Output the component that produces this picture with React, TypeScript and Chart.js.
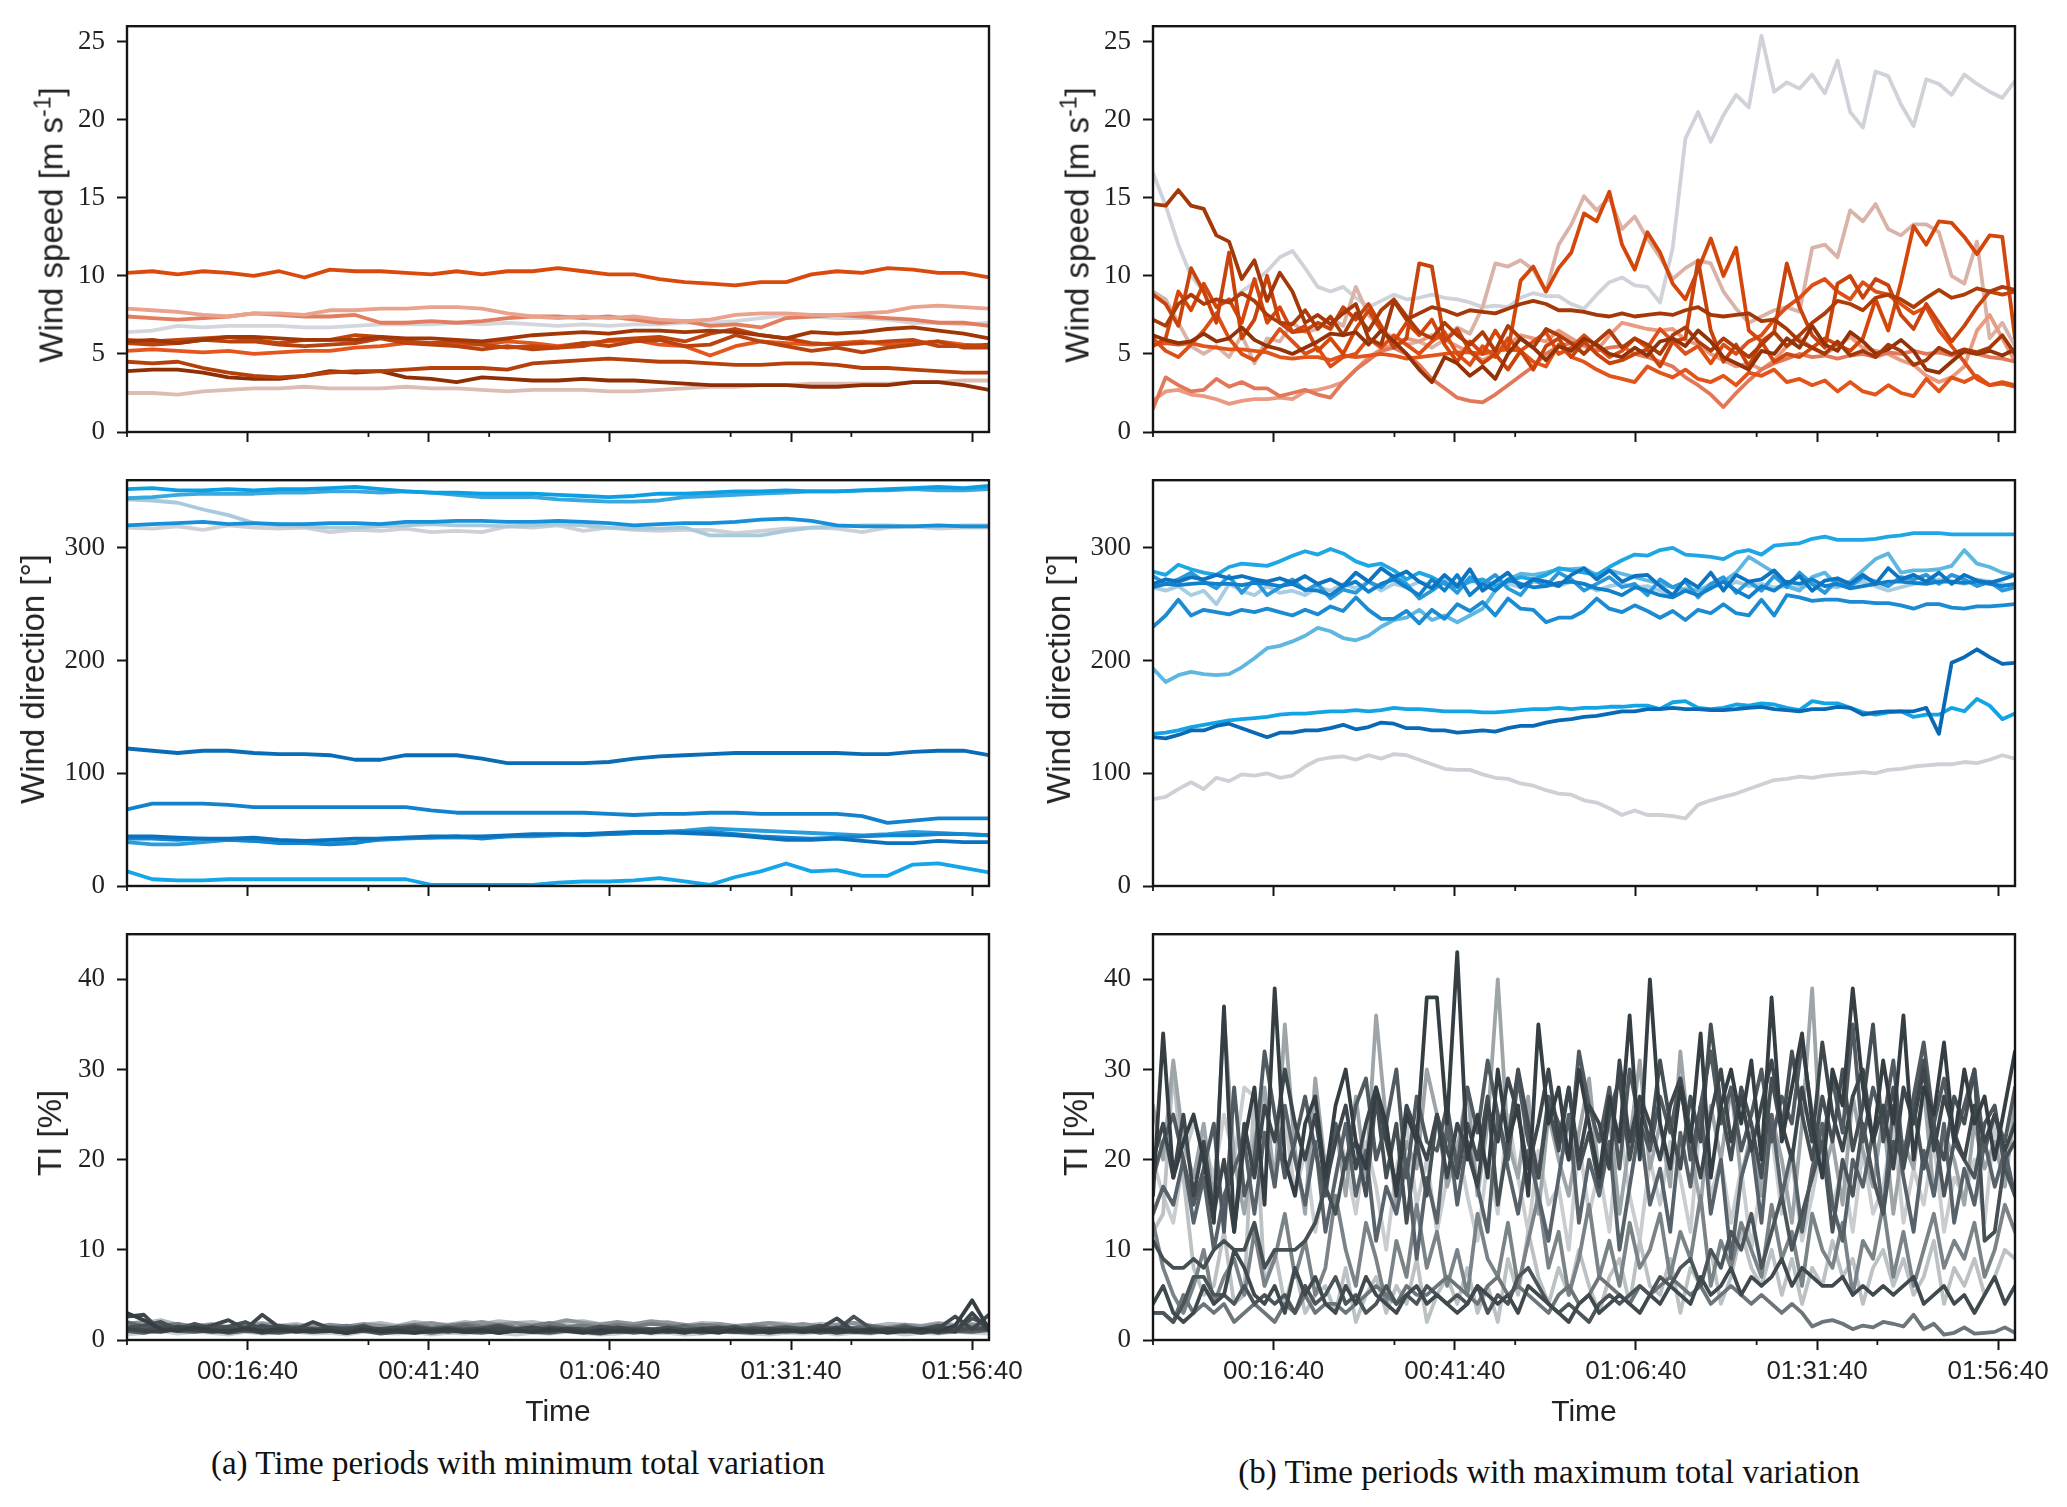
import React, { useEffect, useRef } from 'react';
import { Chart, registerables } from 'chart.js';

Chart.register(...registerables);

// time axis (seconds)
const timeTicks = [1000, 2500, 4000, 5500, 7000];
const timeTickLabels = ['00:16:40', '00:41:40', '01:06:40', '01:31:40', '01:56:40'];
const minorTimeTicks = [0, 2000, 3000, 5000, 6000];
const T_END = 7140;

const speedTicks = [0, 5, 10, 15, 20, 25];
const dirTicks = [0, 100, 200, 300];
const tiTicks = [0, 10, 20, 30, 40];

// (a) minimum total variation — wind speed, sample every 210 s
const speedMin: number[][] = [
  [10.2,10.3,10.1,10.3,10.2,10.0,10.3,9.9,10.4,10.3,10.3,10.2,10.1,10.3,10.1,10.3,10.3,10.5,10.3,10.1,10.1,9.8,9.6,9.5,9.4,9.6,9.6,10.1,10.3,10.2,10.5,10.4,10.2,10.2,9.9],
  [5.8,5.9,5.7,5.9,6.1,6.1,6.0,5.9,5.9,5.9,6.1,6.0,6.0,5.9,5.8,6.0,6.2,6.3,6.4,6.3,6.5,6.5,6.4,6.5,6.4,6.2,6.0,6.4,6.3,6.4,6.6,6.7,6.5,6.3,6.0],
  [5.9,5.8,5.9,6.0,6.1,5.9,5.7,5.9,5.9,6.2,6.1,5.8,5.7,5.8,5.6,5.4,5.5,5.4,5.5,5.9,6.0,6.1,5.8,6.3,6.6,6.2,6.0,5.7,5.6,5.7,5.8,5.9,5.5,5.5,5.6],
  [5.7,5.6,5.7,5.9,5.8,5.8,5.6,5.5,5.6,5.7,6.0,5.7,5.6,5.5,5.3,5.5,5.3,5.4,5.7,5.5,5.8,5.9,5.5,5.6,6.2,5.8,5.5,5.2,5.4,5.1,5.4,5.6,5.8,5.4,5.4],
  [5.2,5.3,5.2,5.1,5.2,5.0,5.1,5.2,5.2,5.4,5.5,5.7,5.7,5.6,5.6,5.8,5.7,5.5,5.7,5.8,5.9,5.6,5.5,4.9,5.5,5.8,5.7,5.6,5.7,5.8,5.6,5.7,5.8,5.6,5.5],
  [4.5,4.4,4.5,4.1,3.8,3.6,3.5,3.6,3.8,3.9,3.9,4.0,4.1,4.1,4.1,4.0,4.4,4.5,4.6,4.7,4.6,4.5,4.5,4.4,4.3,4.3,4.4,4.4,4.3,4.1,4.1,4.0,3.9,3.8,3.8],
  [3.9,4.0,4.0,3.8,3.5,3.4,3.4,3.6,3.9,3.8,3.9,3.5,3.4,3.2,3.5,3.4,3.3,3.3,3.4,3.3,3.3,3.2,3.1,3.0,3.0,3.0,3.0,2.9,2.9,3.0,3.0,3.2,3.2,3.0,2.7],
  [7.9,7.8,7.7,7.5,7.4,7.6,7.6,7.5,7.8,7.8,7.9,7.9,8.0,8.0,7.9,7.6,7.4,7.3,7.4,7.3,7.4,7.2,7.1,7.2,7.5,7.6,7.6,7.5,7.5,7.6,7.7,8.0,8.1,8.0,7.9],
  [7.4,7.3,7.2,7.3,7.4,7.6,7.5,7.4,7.4,7.5,7.0,7.0,7.1,7.0,7.1,7.3,7.4,7.4,7.3,7.4,7.2,7.0,7.1,6.8,6.9,6.7,7.3,7.4,7.5,7.4,7.3,7.2,7.0,7.0,6.8],
  [6.4,6.5,6.8,6.7,6.8,6.8,6.8,6.7,6.7,6.8,6.9,6.9,6.9,7.0,6.9,7.0,6.9,6.8,6.9,6.8,6.9,6.9,7.0,7.0,7.1,7.3,7.5,7.4,7.3,7.3,7.2,7.0,7.0,6.9,7.0],
  [2.5,2.5,2.4,2.6,2.7,2.8,2.8,2.9,2.8,2.8,2.8,2.9,2.8,2.8,2.7,2.6,2.7,2.7,2.7,2.6,2.6,2.7,2.8,2.9,2.9,3.0,3.0,3.1,3.1,3.1,3.1,3.2,3.2,3.3,3.3],
];
const speedMinColors = ['#d94a0c', '#a13707', '#c2440d', '#b8430f', '#e4561e', '#b5400a', '#8f2f05', '#e9a28c', '#e27d60', '#d3d6dc', '#dcbdb5'];

// (a) wind direction
const dirMin: number[][] = [
  [122,120,118,120,120,118,117,117,116,112,112,116,116,116,113,109,109,109,109,110,113,115,116,117,118,118,118,118,118,117,117,119,120,120,116],
  [68,73,73,73,72,70,70,70,70,70,70,70,67,65,65,65,65,65,65,64,63,64,64,65,65,64,64,64,64,62,56,58,60,60,60],
  [44,44,43,42,42,43,41,40,41,42,42,43,44,44,44,45,46,46,46,47,48,48,47,46,45,43,41,41,42,40,38,38,40,39,39],
  [42,42,41,42,41,40,38,38,37,38,42,43,43,44,42,44,45,46,45,46,47,47,48,48,46,44,43,42,43,44,45,45,46,46,45],
  [39,37,37,39,41,40,39,38,38,39,41,42,43,43,43,44,44,45,46,46,47,48,49,51,50,49,48,47,46,45,46,48,47,46,45],
  [13,6,5,5,6,6,6,6,6,6,6,6,1,1,1,1,1,3,4,4,5,7,4,1,8,13,20,13,14,9,9,19,20,16,12],
  [320,321,322,323,321,322,321,321,322,322,321,323,323,324,324,323,323,324,323,322,320,321,322,322,323,325,326,324,320,319,319,319,320,319,319],
  [352,353,351,351,352,351,352,352,353,354,352,350,349,349,348,348,348,347,346,345,346,348,348,349,350,350,351,350,350,351,352,353,354,353,355],
  [344,345,347,348,348,348,349,349,350,350,349,350,349,347,345,345,345,343,342,341,341,342,345,346,347,348,349,350,350,351,351,352,351,351,352],
  [343,342,340,334,329,322,320,319,318,318,319,320,321,320,320,319,320,321,320,318,317,317,318,311,311,311,315,318,319,320,320,319,319,320,320],
  [318,317,319,316,320,318,317,318,314,316,315,317,314,315,314,319,318,320,315,318,316,315,316,316,313,315,317,318,317,314,318,319,317,318,318],
];
const dirMinColors = ['#0a6cb5', '#1382cc', '#0d72be', '#1287d0', '#2a9cdc', '#14a6e8', '#1690d8', '#0c9fe3', '#39a8de', '#a9c9dc', '#cdd1d6'];

// (a) turbulence intensity, sample every 140 s
const tiMin: number[][] = [
  [3.0,2.2,1.2,1.0,1.4,1.1,0.9,1.3,1.0,1.2,0.9,1.1,1.0,0.8,1.2,0.9,1.1,0.8,1.0,1.2,0.9,1.1,0.8,1.0,0.9,1.2,1.0,0.8,1.1,0.9,1.0,0.8,1.1,0.9,1.0,0.8,1.2,0.9,1.0,1.1,0.9,1.0,1.2,0.9,1.1,0.8,1.0,1.2,0.9,1.6,4.4,1.2],
  [1.2,1.0,0.9,1.2,1.1,0.9,1.0,1.2,0.8,1.0,1.1,0.9,1.0,0.8,1.1,1.0,0.9,0.8,1.0,1.1,0.9,1.0,0.8,1.1,0.9,1.0,1.2,0.9,0.8,1.0,1.1,0.9,1.0,0.8,1.2,1.0,0.9,1.1,0.8,1.0,0.9,1.1,0.8,1.0,0.9,1.2,1.0,0.8,1.1,0.9,3.0,1.0],
  [2.6,2.8,1.0,1.5,1.2,1.6,2.2,1.2,2.8,1.4,1.2,2.0,1.3,1.1,1.4,1.2,1.0,1.3,1.1,0.9,1.2,1.0,1.3,1.1,1.4,1.0,1.2,0.9,1.1,1.3,1.0,1.2,0.9,1.1,1.0,1.3,1.1,0.9,1.2,1.0,1.1,1.3,2.4,1.0,1.2,0.9,1.1,1.0,1.3,2.6,1.2,2.8],
  [1.3,1.1,1.5,1.2,1.4,1.0,1.3,1.1,1.6,1.2,1.4,1.2,1.0,1.3,1.1,1.2,1.4,1.0,1.2,1.3,1.1,1.3,1.0,1.2,1.4,1.1,1.3,1.2,1.0,1.4,1.2,1.1,1.3,1.0,1.2,1.4,1.1,1.3,1.2,1.0,1.3,1.1,1.4,1.2,1.0,1.3,1.1,1.2,1.4,1.1,1.3,1.2],
  [1.4,1.6,2.0,1.2,1.8,1.3,1.5,2.0,1.2,1.6,1.3,1.1,1.4,1.2,1.6,1.0,1.3,1.5,1.2,1.4,1.1,1.3,1.6,1.2,1.0,1.4,1.2,1.1,1.5,1.3,1.2,1.0,1.4,1.1,1.3,1.2,1.5,1.0,1.2,1.4,1.2,1.6,1.1,2.6,1.3,1.0,1.4,1.2,1.6,1.1,2.4,1.6],
  [1.0,0.8,1.2,1.0,0.9,1.1,0.8,1.0,0.9,0.8,1.0,0.9,1.1,0.8,1.0,0.7,0.9,1.1,0.8,1.0,0.9,0.8,1.0,1.1,0.9,0.8,1.0,0.9,0.7,1.0,0.8,1.0,0.9,1.1,0.8,1.0,0.9,0.8,1.0,0.9,1.1,0.8,1.0,0.9,0.8,1.0,0.9,1.1,0.8,1.0,0.9,1.1],
  [2.0,1.5,1.8,1.4,1.2,1.6,1.3,1.5,1.2,1.4,1.2,1.3,1.1,1.4,1.2,1.0,1.3,1.5,1.1,1.3,1.6,1.2,1.4,1.1,1.3,1.5,1.2,1.0,1.3,1.1,1.4,1.2,1.3,1.6,1.1,1.3,1.2,1.4,1.1,1.3,1.2,1.4,1.1,1.3,1.5,1.2,1.6,1.1,1.4,1.3,1.2,1.5],
  [1.2,1.4,1.6,1.8,1.3,1.5,1.2,1.6,1.4,1.3,1.5,1.2,1.4,1.6,1.3,1.2,1.5,1.7,1.4,1.6,1.8,1.5,1.7,1.4,1.6,1.9,1.5,1.6,1.4,1.7,1.5,1.8,1.6,1.4,1.7,1.5,1.3,1.6,1.4,1.5,1.3,1.5,1.2,1.4,1.6,1.3,1.5,1.2,1.4,1.3,1.5,1.2],
  [1.8,2.0,1.6,1.8,1.5,1.7,1.4,1.6,1.8,1.5,1.6,1.4,1.7,1.5,1.8,1.6,1.4,1.7,1.9,1.6,1.8,2.0,1.7,1.9,1.6,1.8,2.2,1.9,1.7,2.0,1.8,2.1,1.9,1.7,1.6,1.8,1.5,1.7,1.9,1.6,1.8,1.5,1.7,1.9,1.6,1.4,1.7,1.5,1.8,1.6,1.7,1.5],
  [1.5,1.9,2.2,1.7,1.5,1.8,1.4,1.7,1.9,1.6,1.8,1.5,1.6,1.4,1.7,1.9,1.6,2.0,1.8,1.7,2.0,1.8,2.1,1.9,2.0,1.7,2.0,2.1,1.8,1.9,1.7,1.8,2.0,1.6,1.9,1.8,1.6,1.7,1.9,1.8,1.6,1.8,1.7,1.9,1.5,1.8,1.7,1.6,1.9,1.7,1.8,1.6],
  [0.6,0.8,1.0,0.7,0.9,0.8,0.6,0.9,0.7,0.8,0.9,0.7,0.8,0.6,0.9,0.8,0.7,0.9,0.6,0.8,0.7,0.9,0.8,0.6,0.8,0.7,0.9,0.8,0.6,0.7,0.9,0.7,0.8,0.6,0.7,0.9,0.8,0.7,0.6,0.8,0.7,0.9,0.6,0.8,0.7,0.9,0.6,0.8,0.7,0.9,0.8,0.7],
];
const tiMinColors = ['#353e43', '#3a4449', '#3e484d', '#444e53', '#475156', '#525c62', '#5f696e', '#737c81', '#8d9499', '#b4b9bc', '#cdd0d3'];

// (b) maximum total variation — wind speed, sample every 105 s
const speedMax: number[][] = [
  [14.6,14.5,15.5,14.5,14.3,12.6,12.2,9.8,11.0,8.4,10.2,9.0,7.0,7.5,6.9,7.6,8.2,6.0,5.6,8.4,7.2,7.6,8.0,7.8,7.5,7.8,7.7,7.6,7.9,8.2,8.4,8.2,7.8,7.8,7.7,7.5,7.4,7.6,7.4,7.5,7.6,7.5,7.8,8.0,7.5,7.4,7.5,7.6,7.1,7.2,6.6,5.8,5.4,5.0,5.8,4.9,5.2,4.8,5.6,5.2,4.3,4.6,5.4,5.0,5.3,5.1,5.4,6.2,5.0],
  [6.2,5.9,5.7,5.8,6.3,5.8,6.0,6.7,5.9,5.5,5.3,5.0,5.4,5.8,6.3,6.2,6.4,5.6,6.5,5.8,5.0,4.0,3.2,4.8,4.4,3.6,4.2,3.4,5.0,6.0,5.4,4.6,5.5,5.2,6.0,5.6,5.0,4.8,5.4,4.9,5.8,6.0,5.5,6.5,5.8,4.8,4.4,4.0,5.2,5.0,6.0,5.4,6.8,5.6,5.2,6.4,5.8,5.0,5.3,5.9,5.2,4.0,3.8,4.5,5.2,5.0,5.2,4.9,5.3],
  [7.2,6.8,8.2,8.8,8.2,8.5,8.3,8.9,8.4,7.5,7.0,6.9,7.8,6.6,7.4,6.2,7.6,6.5,7.8,8.5,7.4,6.4,6.0,7.0,6.2,5.6,6.4,5.2,6.8,6.0,5.4,6.6,6.2,5.7,5.0,5.8,6.5,5.4,6.0,5.6,5.0,6.2,6.7,5.8,5.2,6.0,5.4,4.8,5.6,6.4,5.5,6.2,7.0,7.6,8.4,8.2,7.8,8.6,8.8,8.5,8.0,8.6,9.1,8.6,8.8,9.2,9.0,9.3,9.1],
  [8.8,8.2,6.8,10.5,9.0,7.0,11.5,6.0,7.2,10.0,7.0,6.4,6.5,7.0,6.6,8.0,7.2,8.2,6.8,5.4,6.0,10.8,10.6,5.8,6.6,5.2,4.4,5.0,4.0,5.2,4.0,5.5,6.0,4.8,5.8,5.0,4.4,4.6,5.0,5.3,4.2,5.8,6.0,11.0,6.5,4.5,5.6,4.2,5.8,6.4,10.8,8.0,6.2,5.4,9.5,10.0,8.6,9.8,9.4,7.5,6.6,8.2,7.0,5.8,6.8,8.0,9.0,8.8,9.0],
  [5.5,6.0,9.0,7.8,9.5,8.0,8.5,7.0,9.8,7.0,8.0,6.4,6.8,5.2,6.0,5.0,6.6,7.8,6.5,5.8,7.0,6.2,7.2,5.6,4.5,5.8,5.0,6.5,5.2,9.7,10.6,9.0,10.5,11.5,14.0,13.5,15.4,12.0,10.4,12.8,11.5,9.5,8.5,10.4,12.4,10.0,11.8,6.5,5.8,4.5,5.0,4.8,5.4,6.0,5.6,5.2,6.0,8.5,6.5,9.6,13.2,12.0,13.5,13.4,12.5,11.4,12.6,12.5,6.0],
  [6.0,5.2,4.8,5.6,6.5,7.6,6.0,5.0,4.6,5.5,6.6,5.8,5.0,5.4,4.2,4.8,5.0,6.0,5.4,6.2,5.6,5.0,5.8,6.4,5.0,4.3,5.5,4.8,6.0,5.2,5.8,6.4,5.0,5.4,6.2,5.5,4.8,5.2,6.0,5.4,6.6,5.8,5.0,5.5,4.4,5.6,5.0,5.8,6.2,7.2,8.0,8.6,9.4,9.8,9.0,8.5,9.6,9.0,8.8,8.2,7.6,8.0,6.5,5.5,4.5,3.4,3.0,3.2,3.0],
  [5.6,5.7,5.6,5.7,5.5,5.4,5.3,5.3,5.2,5.1,4.8,4.7,4.8,4.8,4.6,4.9,4.8,4.9,5.0,4.9,4.7,4.8,4.9,5.0,5.1,5.1,5.0,5.2,5.3,5.2,4.5,4.2,5.6,4.8,4.5,4.0,3.6,3.4,3.2,4.2,3.8,3.5,4.0,3.4,3.2,3.6,3.0,3.8,3.6,4.0,3.2,3.4,3.0,3.3,2.6,3.2,2.6,2.4,3.0,2.5,2.3,3.4,2.6,3.5,3.2,3.6,3.0,3.1,2.9],
  [1.5,3.5,3.0,2.6,2.7,3.4,2.9,3.2,2.8,2.8,2.3,2.5,2.7,2.4,2.2,3.2,4.0,4.6,5.2,5.4,5.0,4.3,3.4,2.8,2.2,2.0,1.9,2.4,3.0,3.6,4.2,5.0,5.5,5.7,5.6,5.2,5.4,5.5,5.0,4.8,4.5,4.2,3.5,3.0,2.4,1.6,2.5,3.3,4.0,4.4,4.7,5.0,4.8,4.9,4.7,4.9,5.0,4.8,5.1,5.0,5.2,5.0,5.1,4.9,5.1,5.0,4.8,4.7,4.5],
  [2.0,2.6,2.7,2.4,2.3,2.1,1.8,2.0,2.1,2.1,2.2,2.1,2.6,2.7,2.9,3.2,4.0,4.8,5.3,5.6,6.0,5.8,6.2,5.9,5.5,5.1,4.6,5.0,5.6,6.2,6.0,5.8,6.5,6.0,5.5,5.2,6.2,7.0,6.8,6.6,6.5,6.6,5.9,5.6,5.0,4.6,4.2,4.4,4.0,4.6,5.5,6.0,5.4,5.0,5.5,6.1,5.4,5.2,5.0,4.6,4.3,3.6,3.2,3.5,4.2,6.5,7.5,6.0,4.5],
  [9.0,8.5,7.0,5.5,5.0,5.5,4.8,6.2,4.4,6.0,5.8,7.0,6.4,6.6,7.3,6.8,9.3,7.5,6.6,6.0,5.6,5.8,5.4,5.9,6.7,6.3,8.0,10.8,10.6,11.0,10.4,9.0,12.0,13.3,15.1,14.2,15.0,13.0,13.8,12.4,11.2,9.8,10.5,11.0,10.8,9.0,7.9,7.0,7.4,7.8,8.0,7.7,11.8,12.0,11.2,14.2,13.5,14.6,13.0,12.6,13.3,13.3,12.8,10.0,9.5,12.2,6.0,7.0,5.5],
  [16.6,14.5,12.0,10.0,9.0,8.2,8.3,9.0,9.6,10.3,11.2,11.6,10.5,9.3,9.0,9.3,8.6,8.0,8.4,8.8,8.5,8.6,8.8,8.6,8.5,8.3,8.0,8.1,8.0,8.6,8.9,8.7,8.7,8.2,7.9,8.8,9.6,9.9,9.4,9.3,8.3,11.8,18.8,20.5,18.6,20.3,21.6,20.8,25.4,21.8,22.4,22.0,22.9,21.7,23.8,20.5,19.5,23.1,22.8,21.0,19.6,22.6,22.3,21.6,22.9,22.3,21.8,21.4,22.5],
];
const speedMaxColors = ['#a43808', '#933206', '#ad3c08', '#c9440c', '#d5460b', '#dd4f15', '#e3541a', '#e2775a', '#e99a80', '#d9b3a8', '#cfd3d9'];

// (b) wind direction
const dirMax: number[][] = [
  [132,131,134,138,138,142,144,140,136,132,136,136,138,138,140,143,139,141,145,144,140,140,138,138,136,137,138,137,140,142,142,145,147,148,150,151,153,155,155,157,157,158,157,157,156,156,157,158,159,157,156,155,157,157,159,158,152,154,155,155,155,158,135,198,203,210,203,197,198],
  [230,240,254,240,245,243,241,245,243,246,243,240,245,241,248,244,256,245,237,237,244,233,245,237,250,244,252,240,255,246,245,234,238,238,244,255,246,243,249,244,238,244,236,245,242,250,242,240,254,240,258,256,253,254,254,252,252,251,251,249,246,250,250,247,246,248,248,249,250],
  [268,272,270,274,272,276,273,275,272,270,273,269,275,268,272,266,278,270,282,274,279,270,264,276,266,281,262,270,278,265,272,270,266,276,282,272,280,270,275,276,266,258,272,265,278,262,276,270,272,280,268,275,262,271,273,268,276,268,282,272,276,270,278,268,276,271,269,272,276],
  [265,268,267,268,269,268,268,267,269,268,266,268,263,262,258,266,270,261,268,272,265,258,272,262,276,258,268,262,272,268,265,266,269,270,268,264,262,258,265,262,258,256,262,258,264,270,262,256,266,262,270,268,272,266,268,264,266,268,270,270,269,268,270,270,269,270,268,266,268],
  [275,268,272,278,270,264,275,260,272,258,265,272,262,268,255,263,260,270,265,275,268,255,262,270,260,274,268,276,264,258,272,266,278,272,262,268,274,265,268,258,272,265,270,256,268,274,260,270,262,275,265,278,268,260,272,266,274,270,266,274,272,276,268,276,272,266,270,262,265],
  [135,136,138,141,143,145,147,148,149,150,152,153,153,154,155,155,156,155,156,158,157,157,156,155,155,155,154,154,155,156,157,157,158,157,158,158,159,159,160,160,157,163,164,158,157,158,161,160,162,161,158,156,164,162,162,158,154,152,154,155,150,152,152,158,155,166,160,148,153],
  [279,276,285,281,278,276,283,286,285,284,288,293,297,294,299,295,288,284,286,280,272,278,274,268,265,270,272,266,270,274,272,276,282,280,278,276,283,289,294,293,298,300,294,293,292,290,296,298,294,302,303,304,308,310,307,307,307,308,310,311,313,313,313,312,312,312,312,312,312],
  [193,181,187,190,188,187,188,194,202,211,213,217,222,229,226,220,218,222,230,236,238,245,236,240,234,240,246,262,272,277,276,278,281,281,282,276,280,277,274,271,268,265,263,262,266,270,278,292,285,278,266,262,274,278,266,270,280,290,295,278,280,280,281,284,298,286,283,278,276],
  [265,262,266,258,262,250,268,262,258,266,260,262,258,265,262,268,264,270,262,268,265,270,266,272,268,272,266,270,268,265,270,268,266,270,268,262,266,268,265,266,262,258,264,262,268,265,270,266,268,265,266,264,268,266,265,268,270,266,262,265,268,270,272,270,268,272,270,268,265],
  [77,79,86,92,86,96,93,99,98,100,96,98,106,112,114,115,112,116,113,117,116,112,108,104,103,103,99,96,95,91,89,85,82,81,76,74,69,63,67,63,63,62,60,72,76,79,82,86,90,94,95,97,96,98,99,100,101,100,103,104,106,107,108,108,110,109,112,116,113],
];
const dirMaxColors = ['#0a69b4', '#1b8bd3', '#0d74c2', '#1180cc', '#2a98db', '#13a4e6', '#1fa6e4', '#5db7e1', '#a8cce2', '#cdd1d6'];

// (b) turbulence intensity, sample every 84 s
const tiMax: number[][] = [
  [16,34,18,22,25,20,13,37,12,22,28,15,39,20,16,24,27,18,26,30,22,19,28,24,16,25,22,38,38,24,43,20,25,18,30,22,26,16,35,24,28,20,30,24,18,27,22,36,20,40,24,19,28,22,34,18,26,30,24,31,20,38,22,28,34,24,18,30,26,39,28,22,31,24,36,20,28,25,33,22,30,24,27,20,26,32],
  [20,24,18,25,16,22,14,20,12,24,18,26,22,30,24,20,25,17,22,26,19,24,28,22,17,26,23,20,25,18,24,21,17,26,22,29,25,19,24,30,22,28,20,26,24,19,31,22,27,24,20,26,29,23,18,25,30,22,27,21,26,31,24,20,28,22,33,25,21,27,30,22,26,19,28,24,30,21,27,23,20,26,22,25,21,24],
  [4,6,3,2,3,6,4,5,10,8,5,4,6,3,8,5,7,4,3,6,4,7,5,4,3,5,6,4,5,4,3,4,6,5,4,5,3,6,5,4,3,2,4,5,3,4,5,4,3,5,4,6,5,4,7,5,6,8,5,7,6,7,9,6,8,7,6,6,7,5,6,5,6,5,6,7,4,5,6,4,5,3,5,7,4,6],
  [11,9,8,8,9,8,10,11,10,10,13,8,10,10,10,11,13,17,14,20,22,16,27,18,24,13,22,16,25,21,18,24,20,27,15,22,30,24,18,26,21,28,19,23,17,25,29,20,26,22,31,24,19,27,22,35,26,20,28,24,18,29,23,32,25,20,27,22,30,21,26,35,22,28,19,25,31,23,20,27,24,30,11,12,20,22],
  [3,3,2,4,7,7,5,5,4,6,4,5,4,5,3,6,4,5,7,4,5,3,4,6,4,5,4,6,5,4,5,4,6,3,5,4,7,8,6,4,3,4,3,2,4,5,4,5,6,5,7,6,8,9,6,10,8,12,10,14,8,12,16,10,14,18,22,12,20,16,24,18,14,22,20,26,19,24,16,22,20,18,24,26,19,16],
  [18,22,25,20,15,19,24,12,28,16,20,32,25,18,22,27,21,16,24,19,26,29,20,24,30,18,27,22,21,26,19,28,23,31,25,20,29,22,18,27,24,20,32,26,22,28,19,30,24,21,27,23,29,20,26,32,24,28,21,25,30,22,27,24,33,25,21,29,23,35,22,28,24,31,20,27,33,24,29,22,26,30,21,25,22,28],
  [14,17,15,20,13,18,10,16,19,22,14,23,17,26,20,15,22,12,18,24,16,21,11,17,14,20,9,18,13,24,15,22,17,12,25,19,14,21,16,11,18,25,13,20,16,22,10,17,24,15,19,12,23,17,26,14,20,9,18,22,13,25,16,21,12,19,24,15,11,20,17,23,14,26,18,12,21,16,24,13,19,15,22,17,21,16],
  [3,3,2,5,3,4,3,4,2,3,4,3,2,4,3,5,3,4,4,3,4,5,6,5,4,6,5,5,6,7,6,5,4,6,7,5,6,5,4,3,5,6,4,5,7,6,5,4,6,5,6,7,6,5,6,4,5,6,5,4,5,4,3,4,3,1.5,2,2.2,1.8,1.2,1.6,1.4,2,1.8,1.5,2.8,1.2,1.8,0.6,0.8,1.4,0.7,0.8,0.9,1.4,0.8],
  [13,8,5,3,6,10,4,7,9,5,12,6,9,14,7,11,5,8,16,10,6,13,9,4,11,7,15,8,12,6,10,5,14,9,7,13,6,11,16,8,12,5,9,15,7,11,6,13,8,10,14,7,12,9,16,6,11,8,13,10,7,15,9,12,6,14,10,8,13,5,11,9,15,7,12,6,10,14,8,11,9,13,7,10,15,12],
  [26,20,31,22,18,24,15,36,20,14,22,28,17,35,21,14,29,19,24,16,27,18,36,24,15,22,19,30,25,17,21,28,16,24,40,22,18,27,14,25,20,16,23,29,18,25,14,22,31,19,24,17,32,21,15,26,20,28,18,23,16,25,20,13,24,39,18,22,15,27,21,17,25,14,22,19,28,16,23,20,15,24,19,22,17,26],
  [12,14,30,18,8,5,6,12,4,5,28,6,10,4,8,3,5,6,3,8,2,5,7,3,6,4,9,2,5,7,4,8,3,6,2,9,5,12,7,4,8,5,10,6,3,7,9,4,11,6,5,9,3,8,6,10,4,7,12,8,6,10,5,9,4,8,6,11,7,9,4,8,10,6,9,5,7,11,4,8,6,9,5,7,10,9],
  [20,16,13,20,24,22,18,25,20,28,27,22,18,25,16,21,12,18,24,20,14,22,17,10,19,24,15,20,12,18,22,16,11,20,14,25,18,12,21,15,17,10,22,14,19,12,24,16,11,20,15,22,18,12,25,16,20,13,19,10,18,23,14,20,11,16,22,15,19,12,21,14,17,24,13,19,15,22,12,18,16,20,13,24,18,27],
];
const tiMaxColors = ['#353e43', '#3d474c', '#3f494e', '#454f54', '#4b555a', '#505a60', '#58626a', '#6c757a', '#7a8388', '#9ea5a9', '#bcc1c4', '#c9cdd0'];

// ---- layout (px) ----
const COL_X = [127, 1153];
const ROW_Y = [18, 472, 926];
const PLOT_W = 862;
const PLOT_H = 414;
const PAD_L = 120;
const PAD_T = 20;
const PAD_R = 60;
const PAD_B = 70;
// distance from the axis to the centre of the rotated y label, per row
const YLABEL_OFFSET = [77, 94, 77];

type Panel = {
  id: string;
  col: number;
  row: number;
  series: number[][];
  colors: string[];
  step: number;
  yMax: number;
  yTicks: number[];
};

const panels: Panel[] = [
  { id: 'sa', col: 0, row: 0, series: speedMin, colors: speedMinColors, step: 210, yMax: 26, yTicks: speedTicks },
  { id: 'da', col: 0, row: 1, series: dirMin, colors: dirMinColors, step: 210, yMax: 360, yTicks: dirTicks },
  { id: 'ta', col: 0, row: 2, series: tiMin, colors: tiMinColors, step: 140, yMax: 45, yTicks: tiTicks },
  { id: 'sb', col: 1, row: 0, series: speedMax, colors: speedMaxColors, step: 105, yMax: 26, yTicks: speedTicks },
  { id: 'db', col: 1, row: 1, series: dirMax, colors: dirMaxColors, step: 105, yMax: 360, yTicks: dirTicks },
  { id: 'tb', col: 1, row: 2, series: tiMax, colors: tiMaxColors, step: 84, yMax: 45, yTicks: tiTicks },
];

const yLabels = ['Wind speed', 'Wind direction [°]', 'TI [%]'];

const framePlugin = {
  id: 'frame',
  afterDraw(chart: any) {
    const { ctx, chartArea: a, scales } = chart;
    ctx.save();
    ctx.strokeStyle = '#151515';
    ctx.lineWidth = 1.8;
    minorTimeTicks.forEach((v) => {
      const x = scales.x.getPixelForValue(v);
      ctx.beginPath();
      ctx.moveTo(x, a.bottom);
      ctx.lineTo(x, a.bottom + 5);
      ctx.stroke();
    });
    ctx.lineWidth = 2.4;
    ctx.strokeRect(a.left, a.top, a.right - a.left, a.bottom - a.top);
    ctx.restore();
  },
};

function PanelChart({ panel }: { panel: Panel }) {
  const ref = useRef<HTMLCanvasElement>(null);
  const w = PLOT_W + PAD_L + PAD_R;
  const h = PLOT_H + PAD_T + PAD_B;

  useEffect(() => {
    if (!ref.current) return;
    const datasets = panel.series.map((vals, k) => ({
      data: vals.map((v, i) => ({ x: i * panel.step, y: v })),
      borderColor: panel.colors[k],
      borderWidth: 3.8,
      pointRadius: 0,
      tension: 0,
      borderJoinStyle: 'round' as const,
      borderCapStyle: 'round' as const,
      fill: false,
    }));
    const showX = panel.row === 2;
    const chart = new Chart(ref.current, {
      type: 'line',
      data: { datasets },
      options: {
        animation: false,
        responsive: false,
        maintainAspectRatio: false,
        events: [],
        layout: { padding: { top: PAD_T, right: PAD_R, left: 0, bottom: 0 } },
        plugins: { legend: { display: false }, tooltip: { enabled: false } },
        scales: {
          x: {
            type: 'linear',
            min: 0,
            max: T_END,
            afterBuildTicks: (s: any) => {
              s.ticks = timeTicks.map((v) => ({ value: v }));
            },
            afterFit: (s: any) => {
              s.height = PAD_B;
            },
            ticks: {
              display: showX,
              autoSkip: false,
              maxRotation: 0,
              padding: 6,
              color: '#222',
              font: { family: '"Liberation Sans", Arial, sans-serif', size: 26 },
              callback: (v: any) => timeTickLabels[timeTicks.indexOf(Number(v))] ?? '',
            },
            grid: { drawOnChartArea: false, drawTicks: true, tickLength: 10, tickWidth: 2, tickColor: '#151515' },
            border: { display: false },
          },
          y: {
            type: 'linear',
            min: 0,
            max: panel.yMax,
            afterBuildTicks: (s: any) => {
              s.ticks = panel.yTicks.map((v) => ({ value: v }));
            },
            afterFit: (s: any) => {
              s.width = PAD_L;
            },
            ticks: {
              padding: 12,
              color: '#222',
              font: { family: '"Liberation Serif", "Times New Roman", serif', size: 27 },
              callback: (v: any) => String(v),
            },
            grid: { drawOnChartArea: false, drawTicks: true, tickLength: 10, tickWidth: 2, tickColor: '#151515' },
            border: { display: false },
          },
        },
      },
      plugins: [framePlugin],
    });
    return () => chart.destroy();
  }, [panel]);

  return (
    <canvas
      ref={ref}
      width={w}
      height={h}
      style={{
        position: 'absolute',
        left: COL_X[panel.col] - PAD_L,
        top: ROW_Y[panel.row] - PAD_T,
        width: w,
        height: h,
      }}
    />
  );
}

const sans = '"Liberation Sans", Arial, sans-serif';
const serif = '"Liberation Serif", "Times New Roman", serif';

export default function App() {
  return (
    <div
      style={{
        position: 'fixed',
        left: 0,
        top: 0,
        width: 2067,
        height: 1507,
        background: '#fff',
        overflow: 'hidden',
      }}
    >
      {panels.map((p) => (
        <PanelChart key={p.id} panel={p} />
      ))}
      {[0, 1].map((c) =>
        yLabels.map((txt, r) => (
          <div
            key={`yl${c}${r}`}
            style={{
              position: 'absolute',
              left: COL_X[c] - YLABEL_OFFSET[r],
              top: ROW_Y[r] + PLOT_H / 2,
              transform: 'translate(-50%, -50%) rotate(-90deg)',
              fontFamily: sans,
              fontSize: 33,
              color: '#222',
              whiteSpace: 'nowrap',
            }}
          >
            {txt}
            {r === 0 && (
              <>
                {' [m s'}
                <sup style={{ fontSize: '0.7em' }}>-1</sup>
                {']'}
              </>
            )}
          </div>
        ))
      )}
      {[0, 1].map((c) => (
        <div
          key={`xl${c}`}
          style={{
            position: 'absolute',
            left: COL_X[c] + PLOT_W / 2,
            top: 1411,
            transform: 'translate(-50%, -50%)',
            fontFamily: sans,
            fontSize: 30,
            color: '#222',
            whiteSpace: 'nowrap',
          }}
        >
          Time
        </div>
      ))}
      <div
        style={{
          position: 'absolute',
          left: 518,
          top: 1463,
          transform: 'translate(-50%, -50%)',
          fontFamily: serif,
          fontSize: 33,
          color: '#111',
          whiteSpace: 'nowrap',
        }}
      >
        (a) Time periods with minimum total variation
      </div>
      <div
        style={{
          position: 'absolute',
          left: 1549,
          top: 1472,
          transform: 'translate(-50%, -50%)',
          fontFamily: serif,
          fontSize: 33,
          color: '#111',
          whiteSpace: 'nowrap',
        }}
      >
        (b) Time periods with maximum total variation
      </div>
    </div>
  );
}
